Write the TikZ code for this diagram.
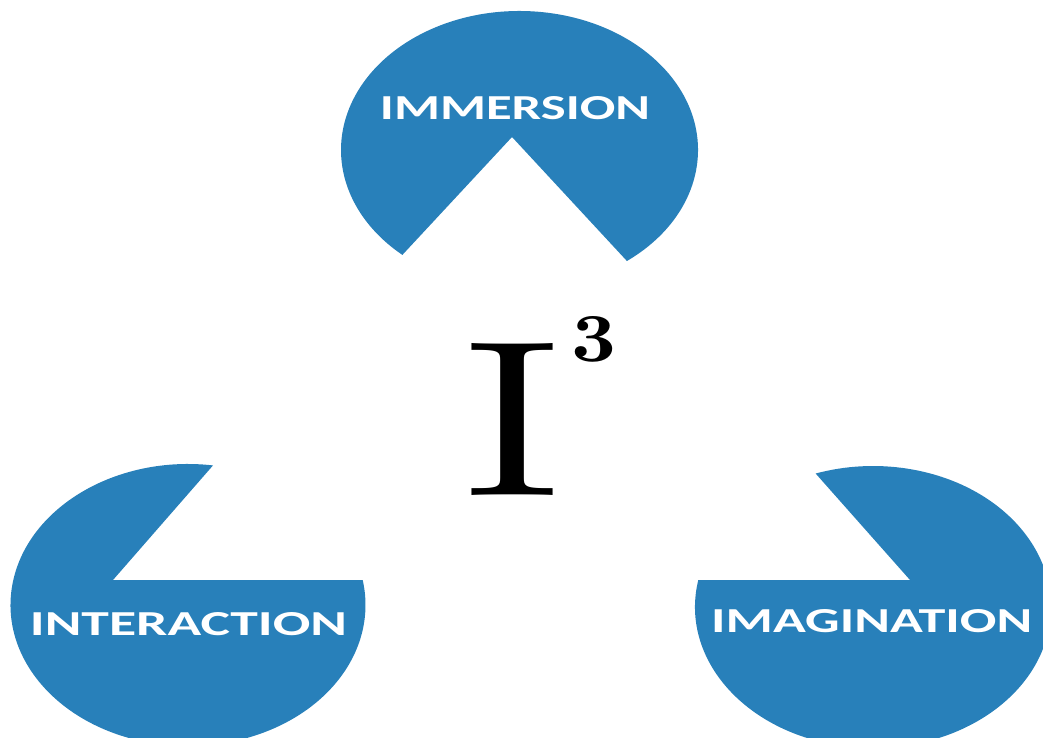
\documentclass[tikz,border=0pt]{standalone}
\usepackage{fontspec}
\usepackage{graphicx}
\usetikzlibrary{calc}
\newfontfamily\labfont{Carlito}
\definecolor{petalblue}{RGB}{40,128,186}
\begin{document}
\begin{tikzpicture}[x=1pt,y=1pt,
  petal/.style={fill=petalblue, draw=none},
  lab/.style={text=white, inner sep=0pt, font=\labfont\bfseries},
  bigsym/.style={text=black, inner sep=0pt}]
\useasboundingbox (0,0) rectangle (1043,737);
\clip (0,0) rectangle (1043,737);
% top petal (IMMERSION)
\coordinate (ctop) at (519.5,587);
\coordinate (atop) at (512,600);
\fill[petal] (atop) -- ($(ctop)+(-53:178.5pt and 139pt)$)
  arc[start angle=-53, end angle=229, x radius=178.5pt, y radius=139pt] -- cycle;
% bottom-left petal (INTERACTION)
\coordinate (cleft) at (188,132);
\coordinate (aleft) at (113,157);
\fill[petal] (aleft) -- ($(cleft)+(81.9:177.5pt and 141pt)$)
  arc[start angle=81.9, end angle=370.2, x radius=177.5pt, y radius=141pt] -- cycle;
% bottom-right petal (IMAGINATION)
\coordinate (cright) at (873,130);
\coordinate (aright) at (910,157);
\fill[petal] (aright) -- ($(cright)+(169:178pt and 141pt)$)
  arc[start angle=169, end angle=468.8, x radius=178pt, y radius=141pt] -- cycle;
% labels
\node[lab] (immersion) at (515,629) {\resizebox{270pt}{23pt}{IMMERSION}};
\node[lab] (interaction) at (188.5,112.7) {\resizebox{317pt}{23pt}{INTERACTION}};
\node[lab] (imagination) at (871.7,116) {\resizebox{321pt}{23pt}{IMAGINATION}};
% I^3
\node[bigsym] (bigI) at (512.5,318) {\resizebox{96pt}{152pt}{\normalfont I}};
\node[bigsym] (cube) at (594,397.5) {\resizebox{45pt}{45pt}{\normalfont\bfseries 3}};
\end{tikzpicture}
\end{document}
